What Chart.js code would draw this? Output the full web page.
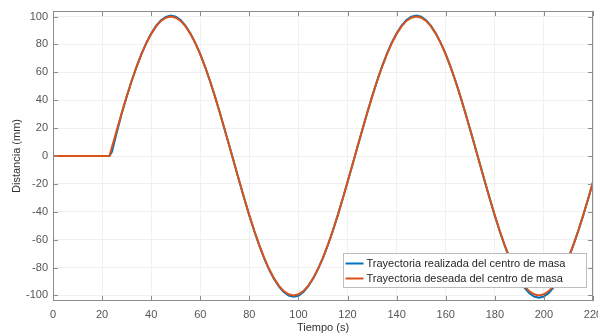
<!DOCTYPE html>
<html>
<head>
<meta charset="utf-8">
<script src="https://cdn.jsdelivr.net/npm/chart.js@4"></script>
<style>
  html, body { margin: 0; padding: 0; background: #fff; }
  #wrap { width: 598px; height: 335px; position: relative; }
</style>
</head>
<body>
<div id="wrap"><canvas id="chart"></canvas></div>
<script>
// time samples (s)
var tiempo = [0, 10, 20, 22, 23, 24, 26, 28, 30, 32, 34, 36, 38, 40, 42, 44, 46, 48, 50,
    52, 54, 56, 58, 60, 62, 64, 66, 68, 70, 72, 74, 76, 78, 80, 82, 84, 86, 88, 90,
    92, 94, 96, 98, 100, 102, 104, 106, 108, 110, 112, 114, 116, 118, 120, 122, 124, 126, 128, 130,
    132, 134, 136, 138, 140, 142, 144, 146, 148, 150, 152, 154, 156, 158, 160, 162, 164, 166, 168, 170,
    172, 174, 176, 178, 180, 182, 184, 186, 188, 190, 192, 194, 196, 198, 200, 202, 204, 206, 208, 210,
    212, 214, 216, 218, 220];

// desired trajectory (mm)
var deseada = [0, 0, 0, 0, 0, 6.3, 18.7, 30.9, 42.6, 53.6, 63.7, 72.9, 80.9, 87.6, 93, 96.9, 99.2, 100, 99.2,
    96.9, 93, 87.6, 80.9, 72.9, 63.7, 53.6, 42.6, 30.9, 18.7, 6.3, -6.3, -18.7, -30.9, -42.6, -53.6, -63.7, -72.9, -80.9, -87.6,
    -93, -96.9, -99.2, -100, -99.2, -96.9, -93, -87.6, -80.9, -72.9, -63.7, -53.6, -42.6, -30.9, -18.7, -6.3, 6.3, 18.7, 30.9, 42.6,
    53.6, 63.7, 72.9, 80.9, 87.6, 93, 96.9, 99.2, 100, 99.2, 96.9, 93, 87.6, 80.9, 72.9, 63.7, 53.6, 42.6, 30.9, 18.7,
    6.3, -6.3, -18.7, -30.9, -42.6, -53.6, -63.7, -72.9, -80.9, -87.6, -93, -96.9, -99.2, -100, -99.2, -96.9, -93, -87.6, -80.9, -72.9,
    -63.7, -53.6, -42.6, -30.9, -18.7];

// realized trajectory (mm)
var realizada = [0, 0, 0, 0, 0, 3, 17, 30.5, 42.5, 53.6, 63.8, 73, 81, 87.8, 93.3, 97.3, 99.8, 100.8, 100,
    97.5, 93.4, 87.9, 81, 73, 63.8, 53.6, 42.6, 30.9, 18.7, 6.3, -6.3, -18.8, -31, -42.8, -53.8, -64, -73.2, -81.3, -88.1,
    -93.6, -97.6, -100.1, -101, -100.2, -97.5, -93.4, -87.8, -81, -73, -63.8, -53.6, -42.6, -30.9, -18.7, -6.3, 6.3, 18.7, 30.9, 42.6,
    53.7, 63.9, 73.1, 81.2, 88, 93.5, 97.5, 100, 100.8, 100, 97.4, 93.3, 87.8, 81, 73, 63.8, 53.6, 42.6, 30.9, 18.7,
    6.3, -6.3, -18.8, -31, -42.9, -54, -64.2, -73.5, -81.7, -88.6, -94.2, -98.3, -100.8, -101.6, -100.8, -98.2, -94, -88.3, -81.3, -73.2,
    -63.9, -53.7, -42.6, -30.9, -18.7];

var xTicks = [0, 20, 40, 60, 80, 100, 120, 140, 160, 180, 200, 220];
var yTicks = [-100, -80, -60, -40, -20, 0, 20, 40, 60, 80, 100];

var seriesLabels = ['Trayectoria realizada del centro de masa', 'Trayectoria deseada del centro de masa'];
var seriesColors = ['#0072BD', '#D95319'];

function toPoints(ys) {
    return tiempo.map(function (t, i) { return { x: t, y: ys[i] }; });
}

var textColor = '#555555';
var fontFamily = '"Liberation Sans", Arial, Helvetica, sans-serif';

// box, inward ticks and the legend inside the plot (MATLAB look)
var matlabDecor = {
    id: 'matlabDecor',
    afterDatasetsDraw: function (chart) {
        var ctx = chart.ctx;
        var a = chart.chartArea;
        var xs = chart.scales.x, ys = chart.scales.y;
        ctx.save();
        ctx.strokeStyle = '#8c8c8c';
        ctx.lineWidth = 1;
        ctx.beginPath();
        xTicks.forEach(function (v) {
            var px = Math.round(xs.getPixelForValue(v)) + 0.5;
            ctx.moveTo(px, a.bottom); ctx.lineTo(px, a.bottom - 5);
            ctx.moveTo(px, a.top); ctx.lineTo(px, a.top + 5);
        });
        yTicks.forEach(function (v) {
            var py = Math.round(ys.getPixelForValue(v)) + 0.5;
            ctx.moveTo(a.left, py); ctx.lineTo(a.left + 5, py);
            ctx.moveTo(a.right, py); ctx.lineTo(a.right - 5, py);
        });
        ctx.stroke();
        ctx.strokeRect(Math.round(a.left) + 0.5, Math.round(a.top) + 0.5,
            Math.round(a.right - a.left) - 1, Math.round(a.bottom - a.top) - 1);

        // legend
        var bx = 343.5, by = 253.5, bw = 243, bh = 34;
        ctx.fillStyle = '#ffffff';
        ctx.fillRect(bx, by, bw, bh);
        ctx.strokeStyle = '#bdbdbd';
        ctx.strokeRect(bx, by, bw, bh);
        ctx.font = '11px ' + fontFamily;
        ctx.textBaseline = 'middle';
        chart.data.datasets.forEach(function (ds, i) {
            var cy = by + 10 + i * 15;
            ctx.strokeStyle = ds.borderColor;
            ctx.lineWidth = 2;
            ctx.beginPath();
            ctx.moveTo(bx + 2, cy); ctx.lineTo(bx + 20, cy);
            ctx.stroke();
            ctx.fillStyle = '#262626';
            ctx.fillText(ds.label, bx + 23, cy);
        });
        ctx.restore();
    }
};

var config = {
    type: 'line',
    data: {
        datasets: [{
            label: seriesLabels[0],
            data: toPoints(realizada),
            borderColor: seriesColors[0],
            backgroundColor: seriesColors[0],
            borderWidth: 2,
            pointRadius: 0,
            fill: false,
            order: 1
        }, {
            label: seriesLabels[1],
            data: toPoints(deseada),
            borderColor: seriesColors[1],
            backgroundColor: seriesColors[1],
            borderWidth: 2,
            pointRadius: 0,
            fill: false,
            order: 0
        }]
    },
    options: {
        responsive: true,
        maintainAspectRatio: false,
        animation: false,
        layout: {
            autoPadding: false,
            padding: { top: 11, right: 5, left: 0, bottom: 0 }
        },
        plugins: {
            legend: { display: false },
            tooltip: { enabled: false }
        },
        scales: {
            x: {
                type: 'linear',
                min: 0,
                max: 220,
                afterBuildTicks: function (s) { s.ticks = xTicks.map(function (v) { return { value: v }; }); },
                afterFit: function (s) { s.height = 34; s.paddingLeft = 0; s.paddingRight = 0; },
                grid: { color: '#f0f0f0', drawTicks: false },
                border: { display: false },
                ticks: {
                    color: textColor,
                    padding: 7,
                    maxRotation: 0,
                    autoSkip: false,
                    font: { family: fontFamily, size: 11 }
                },
                title: {
                    display: true,
                    text: 'Tiempo (s)',
                    color: '#333333',
                    padding: { top: 0, bottom: 0 },
                    font: { family: fontFamily, size: 11 }
                }
            },
            y: {
                type: 'linear',
                min: -104,
                max: 104,
                afterBuildTicks: function (s) { s.ticks = yTicks.map(function (v) { return { value: v }; }); },
                afterFit: function (s) { s.width = 53; s.paddingTop = 0; s.paddingBottom = 0; },
                grid: { color: '#f0f0f0', drawTicks: false },
                border: { display: false },
                ticks: {
                    color: textColor,
                    padding: 5,
                    autoSkip: false,
                    font: { family: fontFamily, size: 11 }
                },
                title: {
                    display: true,
                    text: 'Distancia (mm)',
                    color: '#333333',
                    padding: { top: 10, bottom: 0 },
                    font: { family: fontFamily, size: 11 }
                }
            }
        }
    },
    plugins: [matlabDecor]
};

window.onload = function () {
    var ctx = document.getElementById('chart').getContext('2d');
    new Chart(ctx, config);
};
</script>
</body>
</html>
